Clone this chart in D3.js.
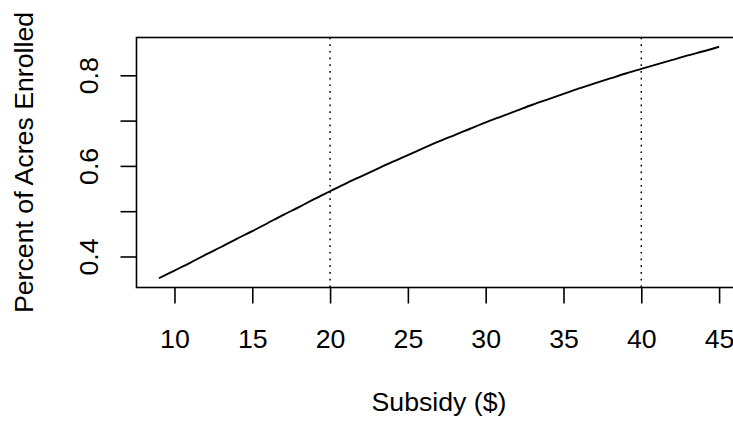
<!DOCTYPE html>
<html>
<head>
<meta charset="utf-8">
<script src="https://cdn.jsdelivr.net/npm/d3@7"></script>
<style>
    body { margin: 0; background: #fff; }
    text { font-family: "Liberation Sans", Arial, sans-serif; fill: #000; }
</style>
</head>
<body>
<div id="chart-area"></div>
<script>
// subsidy ($) and share of acres enrolled
var subsidy = [9, 10, 11, 12, 13, 14, 15, 16, 17, 18, 19, 20, 21, 22, 23, 24, 25, 26, 27,
    28, 29, 30, 31, 32, 33, 34, 35, 36, 37, 38, 39, 40, 41, 42, 43, 44, 45];
var enrolled = [0.352, 0.369, 0.386, 0.404, 0.421, 0.439, 0.456, 0.474, 0.492, 0.509,
    0.527, 0.544, 0.561, 0.577, 0.593, 0.609, 0.624, 0.639, 0.654, 0.668, 0.682, 0.696,
    0.709, 0.722, 0.735, 0.747, 0.759, 0.771, 0.782, 0.793, 0.804, 0.814, 0.824, 0.834,
    0.844, 0.853, 0.863];
var xTicks = [10, 15, 20, 25, 30, 35, 40, 45];
var yTicks = [0.4, 0.5, 0.6, 0.7, 0.8];
var yTickLabels = ["0.4", "", "0.6", "", "0.8"];
var refLines = [20, 40];

var width = 733, height = 421;
// plot box edges (note: "top" is taken by window.top, so prefix everything)
var boxLeft = 136.5, boxRight = 741.5, boxTop = 37.5, boxBottom = 287.5;
var fontSize = 26.7;

var svg = d3.select("#chart-area")
    .append("svg")
        .attr("width", width)
        .attr("height", height);

// R style: pad the data range by 4% on each side
function padded(ext) {
    var r = ext[1] - ext[0];
    return [ext[0] - 0.04 * r, ext[1] + 0.04 * r];
}

var x = d3.scaleLinear()
    .domain(padded(d3.extent(subsidy)))
    .range([boxLeft, boxRight]);

var y = d3.scaleLinear()
    .domain(padded(d3.extent(enrolled)))
    .range([boxBottom, boxTop]);

var data = subsidy.map(function(s, i) { return { s: s, p: enrolled[i] }; });

// dotted reference lines
svg.selectAll(".ref")
        .data(refLines)
    .enter()
        .append("line")
        .attr("class", "ref")
        .attr("x1", function(d) { return x(d); })
        .attr("x2", function(d) { return x(d); })
        .attr("y1", boxTop)
        .attr("y2", boxBottom)
        .attr("stroke", "#000")
        .attr("stroke-width", 1.5)
        .attr("stroke-dasharray", "1.7,5");

var line = d3.line()
    .x(function(d) { return x(d.s); })
    .y(function(d) { return y(d.p); })
    .curve(d3.curveMonotoneX);

svg.append("path")
    .datum(data)
    .attr("d", line)
    .attr("fill", "none")
    .attr("stroke", "#000")
    .attr("stroke-width", 1.9);

// box
svg.append("rect")
    .attr("x", boxLeft)
    .attr("y", boxTop)
    .attr("width", boxRight - boxLeft)
    .attr("height", boxBottom - boxTop)
    .attr("fill", "none")
    .attr("stroke", "#000")
    .attr("stroke-width", 1.6);

// x axis
var xAxis = d3.axisBottom(x)
    .tickValues(xTicks)
    .tickSize(16)
    .tickPadding(0)
    .tickFormat(d3.format("d"));

var gx = svg.append("g")
    .attr("transform", "translate(0," + boxBottom + ")")
    .call(xAxis);
gx.select(".domain").remove();
gx.selectAll(".tick line").attr("stroke", "#000").attr("stroke-width", 1.6);
gx.selectAll(".tick text")
    .attr("y", 60.5)
    .attr("dy", null)
    .style("font-size", fontSize + "px")
    .style("font-family", "'Liberation Sans', Arial, sans-serif")
    .attr("fill", "#000");

// y axis, labels rotated like R's default
var yAxis = d3.axisLeft(y)
    .tickValues(yTicks)
    .tickSize(16)
    .tickFormat(function(d, i) { return yTickLabels[i]; });

var gy = svg.append("g")
    .attr("transform", "translate(" + boxLeft + ",0)")
    .call(yAxis);
gy.select(".domain").remove();
gy.selectAll(".tick line").attr("stroke", "#000").attr("stroke-width", 1.6);
gy.selectAll(".tick text")
    .attr("x", null)
    .attr("dy", null)
    .attr("text-anchor", "middle")
    .attr("transform", "translate(-38.5,0) rotate(-90)")
    .style("font-size", fontSize + "px")
    .style("font-family", "'Liberation Sans', Arial, sans-serif")
    .attr("fill", "#000");

// axis titles
svg.append("text")
    .attr("x", (boxLeft + boxRight) / 2)
    .attr("y", 411)
    .attr("text-anchor", "middle")
    .style("font-size", fontSize + "px")
    .text("Subsidy ($)");

svg.append("text")
    .attr("transform", "translate(33," + (boxTop + boxBottom) / 2 + ") rotate(-90)")
    .attr("text-anchor", "middle")
    .style("font-size", fontSize + "px")
    .text("Percent of Acres Enrolled");
</script>
</body>
</html>
